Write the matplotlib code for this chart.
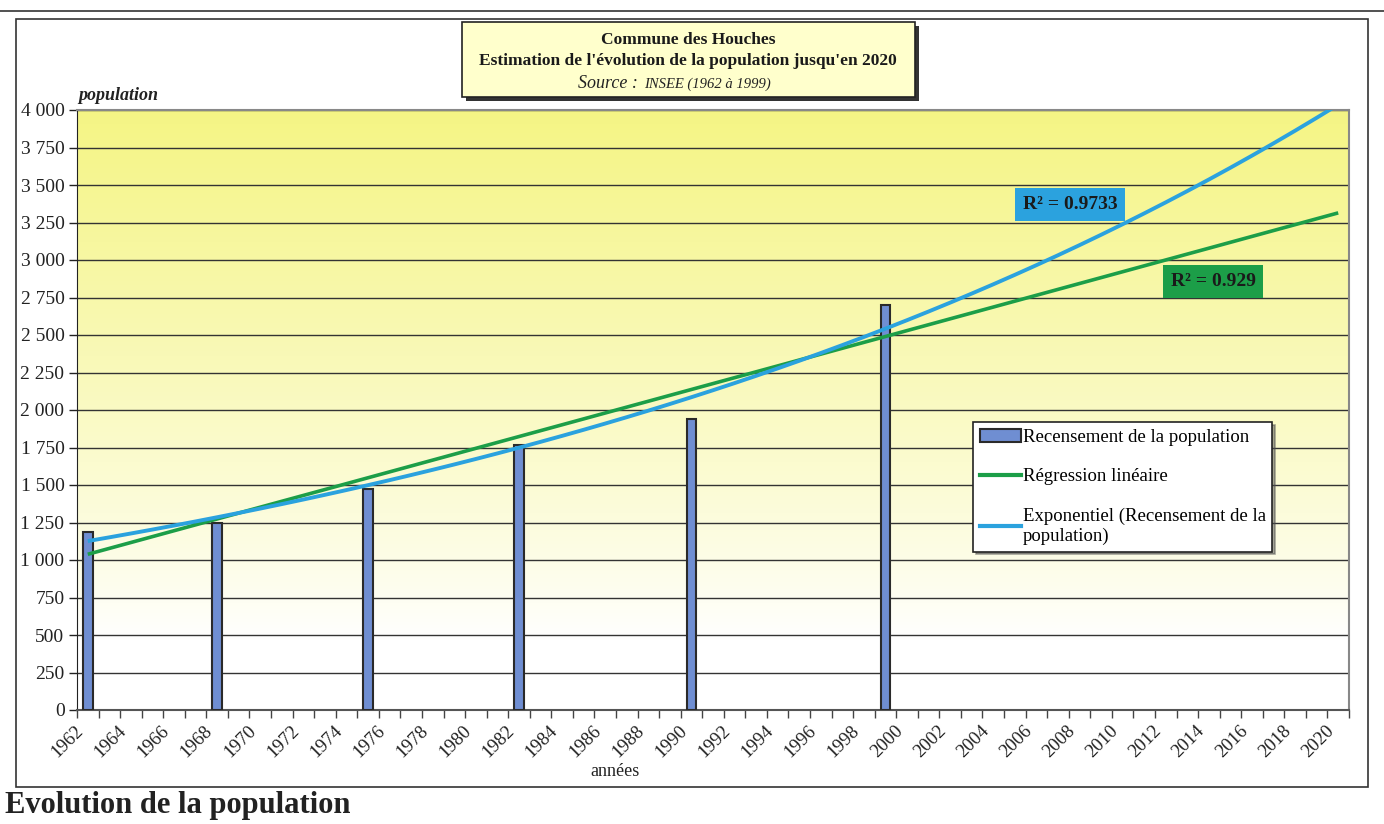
import numpy as np
import matplotlib
matplotlib.use("Agg")
import matplotlib.pyplot as plt
import matplotlib.transforms as mtransforms
from matplotlib.patches import Rectangle, Patch
from matplotlib.lines import Line2D
from matplotlib.ticker import FuncFormatter

plt.rcParams['font.family'] = ['Liberation Serif', 'DejaVu Serif']

# %% data
years = list(range(1962, 2021))
census_years = [1962, 1968, 1975, 1982, 1990, 1999]
census_pop = [1185, 1245, 1473, 1765, 1942, 2700]
r2_linear = "0.929"
r2_expo = "0.9733"

# %% fits (what the spreadsheet trend lines show)
cx = np.array(census_years, dtype=float)
cy = np.array(census_pop, dtype=float)
yr = np.array(years, dtype=float)
lin = np.polyfit(cx, cy, 1)
lin_y = np.polyval(lin, yr)
ex = np.polyfit(cx, np.log(cy), 1)
exp_y = np.exp(np.polyval(ex, yr))

W, H = 1384, 824
fig = plt.figure(figsize=(W / 100, H / 100), dpi=100)
fig.patch.set_facecolor('white')

def fx(px):
    return px / W

def fy(py):
    return 1 - py / H

# outer frame + top rule
fig.add_artist(Line2D([0, 1], [fy(11), fy(11)], color='#333333', lw=1.2))
fig.add_artist(Rectangle((fx(16), fy(787)), fx(1368) - fx(16), fy(19) - fy(787),
                         fill=False, ec='#333333', lw=1.2, transform=fig.transFigure))

ax = fig.add_axes([fx(77), fy(710), fx(1349) - fx(77), fy(110) - fy(710)])
n = len(years)

# yellow (top) -> white (bottom) gradient background
g = np.linspace(0, 1, 256)          # 0 = bottom, 1 = top
t = np.clip((g - 0.12) / 0.88, 0, 1) ** 0.85
top = np.array([0.96, 0.96, 0.52])
bot = np.array([1.0, 1.0, 1.0])
img = bot * (1 - t[:, None]) + top * t[:, None]
ax.imshow(img[:, None, :], extent=[0, n, 0, 4000], origin='lower', aspect='auto', zorder=0)
ax.set_xlim(0, n)
ax.set_ylim(0, 4000)

for yv in range(250, 4001, 250):
    ax.axhline(yv, color='#333333', lw=1, zorder=1)

# bars
idx = [years.index(y) + 0.5 for y in census_years]
ax.bar(idx, census_pop, width=0.45, color='#6F8ED2', edgecolor='#2a2a2a', lw=1.5, zorder=3)

xc = np.arange(n) + 0.5
ax.plot(xc, lin_y, color='#1C9E48', lw=2.6, zorder=4, solid_capstyle='butt')
ax.plot(xc, exp_y, color='#2BA2DE', lw=2.8, zorder=5, solid_capstyle='butt')

# axes styling
for s in ['top', 'right']:
    ax.spines[s].set_color('#888888')
    ax.spines[s].set_linewidth(1.5)
ax.spines['left'].set_color('#222222')
ax.spines['bottom'].set_color('#555555')
ax.spines['bottom'].set_linewidth(1.5)

ax.set_yticks(range(0, 4001, 250))
ax.yaxis.set_major_formatter(FuncFormatter(lambda v, p: f"{int(v):,}".replace(',', ' ')))
ax.tick_params(axis='y', direction='out', length=6, width=1, labelsize=14, pad=3, colors='#222222')

ax.set_xticks(np.arange(0, n + 1))
ax.set_xticklabels([])
ax.tick_params(axis='x', which='major', direction='out', length=6, width=1, colors='#444444')
ax.set_xticks(xc[::2], minor=True)
ax.set_xticklabels([str(y) for y in years[::2]], minor=True, rotation=45,
                   ha='right', va='center', rotation_mode='anchor', fontsize=13.5)
ax.tick_params(axis='x', which='minor', length=0, pad=13, labelcolor='#222222')
shift = mtransforms.ScaledTranslation(-7 / 100, 0, fig.dpi_scale_trans)
for lab in ax.get_xticklabels(minor=True):
    lab.set_transform(lab.get_transform() + shift)

# R2 labels
ax.text(46.06, 3369, "R² = " + r2_expo, fontsize=14, fontweight='bold',
        color='#1a1a1a', va='center', ha='center', zorder=6,
        bbox=dict(boxstyle='square,pad=0.4', fc='#2BA2DE', ec='none'))
ax.text(52.7, 2857, "R² = " + r2_linear, fontsize=14, fontweight='bold',
        color='#1a1a1a', va='center', ha='center', zorder=6,
        bbox=dict(boxstyle='square,pad=0.4', fc='#1C9E48', ec='none'))

# legend
handles = [Patch(fc='#6F8ED2', ec='#2a2a2a', lw=1.5),
           Line2D([], [], color='#1C9E48', lw=3),
           Line2D([], [], color='#2BA2DE', lw=3)]
labels = ["Recensement de la population", "Régression linéaire",
          "Exponentiel (Recensement de la\npopulation)"]
leg = ax.legend(handles, labels, loc='upper left',
                bbox_to_anchor=((973 - 77) / (1349 - 77), 1 - (422 - 110) / 600),
                fontsize=13.5, frameon=True, fancybox=False, shadow=True, framealpha=1,
                edgecolor='#222222', handlelength=2.2, handletextpad=0.1,
                labelspacing=1.2, borderpad=0.35, borderaxespad=0)
leg.get_frame().set_linewidth(1.2)
leg.set_zorder(7)

# title box
fig.add_artist(Rectangle((fx(466), fy(101)), fx(919) - fx(466), fy(26) - fy(101), fc='#333333', ec='none',
                         transform=fig.transFigure))
fig.add_artist(Rectangle((fx(462), fy(97)), fx(915) - fx(462), fy(22) - fy(97), fc='#FFFFCC', ec='#222222',
                         lw=1.2, transform=fig.transFigure))
fig.text(fx(688), fy(40), "Commune des Houches", ha='center', va='center', fontsize=12.5,
         fontweight='bold', color='#1a1a1a')
fig.text(fx(688), fy(61), "Estimation de l'évolution de la population jusqu'en 2020", ha='center',
         va='center', fontsize=12.5, fontweight='bold', color='#1a1a1a')
fig.text(fx(638), fy(83), "Source :", ha='right', va='center', fontsize=13, style='italic', color='#222222')
fig.text(fx(644), fy(84), "INSEE (1962 à 1999)", ha='left', va='center', fontsize=10.5, style='italic',
         color='#222222')

fig.text(fx(78), fy(95), "population", fontsize=13, fontweight='bold', style='italic', va='center', color='#222222')
fig.text(fx(615), fy(772), "années", fontsize=13, ha='center', va='center', color='#222222')
fig.text(fx(5), fy(806), "Evolution de la population", fontsize=22, fontweight='bold', va='center', color='#222222')

fig.savefig('out.png', dpi=100)
